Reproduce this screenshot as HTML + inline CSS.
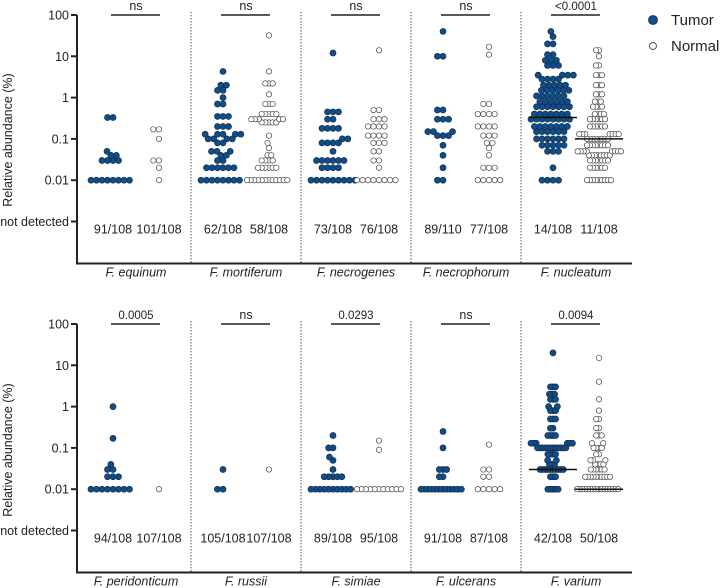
<!DOCTYPE html>
<html><head><meta charset="utf-8"><style>
body{margin:0;background:#fff;}
svg{display:block;font-family:"Liberation Sans",Arial,sans-serif;}
</style></head><body>
<svg id="chart" width="720" height="588" viewBox="0 0 720 588">
<text x="0" y="0" transform="translate(12,140) rotate(-90)" text-anchor="middle" font-size="12.5" fill="#222">Relative abundance (%)</text>
<text x="0" y="0" transform="translate(12,450) rotate(-90)" text-anchor="middle" font-size="12.5" fill="#222">Relative abundance (%)</text>
<circle cx="653" cy="20" r="4.5" fill="#0b4f8e" stroke="#1a2a40" stroke-width="0.8"/>
<text x="671" y="25" font-size="15" fill="#222">Tumor</text>
<circle cx="653" cy="46" r="3.5" fill="#fff" stroke="#444" stroke-width="0.9"/>
<text x="671" y="51" font-size="15" fill="#222">Normal</text>
</svg>
<script>
// ---- data ----
const speciesTop = ["F. equinum","F. mortiferum","F. necrogenes","F. necrophorum","F. nucleatum"];
const speciesBottom = ["F. peridonticum","F. russii","F. simiae","F. ulcerans","F. varium"];
const pTop = ["ns","ns","ns","ns","<0.0001"];
const pBottom = ["0.0005","ns","0.0293","ns","0.0094"];
const ndTumorTop = ["91/108","62/108","73/108","89/110","14/108"];
const ndNormalTop = ["101/108","58/108","76/108","77/108","11/108"];
const ndTumorBottom = ["94/108","105/108","89/108","91/108","42/108"];
const ndNormalBottom = ["107/108","107/108","95/108","87/108","50/108"];
const yTicks = [100,10,1,0.1,0.01];
const yTickLabels = ["100","10","1","0.1","0.01"];
// [value, count] pairs per species
const tumorTop = [
 [[0.01,8],[0.03,4],[0.04,2],[0.05,1],[0.33,2]],
 [[0.01,8],[0.02,6],[0.03,2],[0.04,2],[0.05,3],[0.08,2],[0.1,4],[0.13,5],[0.2,3],[0.35,3],[0.7,2],[1.0,1],[1.5,2],[2.0,2],[4.3,1]],
 [[0.01,9],[0.02,4],[0.03,6],[0.05,1],[0.08,4],[0.1,2],[0.18,4],[0.3,2],[0.45,3],[12,1]],
 [[0.01,2],[0.02,1],[0.04,1],[0.07,1],[0.12,3],[0.15,3],[0.3,3],[0.5,2],[10,2],[40,1]],
 [[0.01,4],[0.02,1],[0.05,3],[0.07,5],[0.1,6],[0.15,6],[0.2,7],[0.3,8],[0.4,7],[0.6,7],[0.8,6],[1.1,6],[1.5,6],[2,5],[2.8,4],[3.5,4],[6,3],[8,3],[11,2],[20,2],[30,1],[40,1]]
];
const normalTop = [
 [[0.01,1],[0.02,1],[0.03,2],[0.1,1],[0.17,2]],
 [[0.01,12],[0.02,6],[0.03,4],[0.04,2],[0.06,1],[0.08,1],[0.12,1],[0.25,5],[0.3,5],[0.4,5],[0.7,3],[1.2,1],[2.2,3],[4.3,1],[32,1]],
 [[0.01,8],[0.02,1],[0.03,2],[0.05,2],[0.08,3],[0.12,4],[0.2,4],[0.3,3],[0.5,2],[14,1]],
 [[0.01,5],[0.02,3],[0.04,1],[0.06,1],[0.08,2],[0.12,3],[0.2,4],[0.4,4],[0.7,2],[11,1],[17,1]],
 [[0.01,9],[0.02,6],[0.03,7],[0.04,8],[0.05,8],[0.07,8],[0.1,8],[0.13,7],[0.2,6],[0.3,6],[0.4,4],[0.6,4],[0.8,3],[1.2,3],[2,3],[3.5,3],[6,2],[10,1],[14,2]]
];
const tumorBottom = [
 [[0.01,8],[0.02,3],[0.03,2],[0.04,1],[0.17,1],[1.0,1]],
 [[0.01,2],[0.03,1]],
 [[0.01,10],[0.02,5],[0.03,1],[0.05,1],[0.06,1],[0.1,2],[0.2,1]],
 [[0.01,12],[0.02,2],[0.03,3],[0.1,1],[0.25,1]],
 [[0.01,5],[0.02,3],[0.03,10],[0.04,3],[0.05,2],[0.07,4],[0.1,12],[0.13,6],[0.2,4],[0.3,2],[0.5,3],[0.8,3],[1,2],[1.5,3],[2,3],[3,3],[20,1]]
];
const normalBottom = [
 [[0.01,1]],
 [[0.03,1]],
 [[0.01,11],[0.09,1],[0.15,1]],
 [[0.01,5],[0.02,2],[0.03,2],[0.12,1]],
 [[0.01,16],[0.02,10],[0.03,6],[0.04,4],[0.05,3],[0.07,2],[0.1,4],[0.13,2],[0.2,3],[0.3,2],[0.5,2],[0.8,1],[1.5,1],[4,1],[15,1]]
];
const mediansTumor = [null,null,null,null,0.33, null,null,null,null,0.03];
const mediansNormal = [null,null,null,null,0.1, null,null,null,null,0.01];

// ---- drawing ----
const NS="http://www.w3.org/2000/svg";
const svg=document.getElementById('chart');
function mk(tag,attrs,parent){const e=document.createElementNS(NS,tag);for(const k in attrs)e.setAttribute(k,attrs[k]);(parent||svg).appendChild(e);return e;}
const D=5.6, HALFMAX=22;
function panel(top, species, pvals, ndT, ndN, tData, nData, idx0){
  const y100=top, dec=41.3;
  const yScale=v=>y100+(2-Math.log10(v))*dec;
  const yND=y100+5*dec, yAxisEnd=y100+5*dec+42;
  const x0=77, step=110;
  const g=mk('g',{});
  
  
  const ya=mk('line',{x1:x0,y1:y100,x2:x0,y2:yAxisEnd,stroke:'#222','stroke-width':2},g);
  
  const xa=mk('line',{x1:x0-1,y1:yAxisEnd,x2:x0+5*step+5,y2:yAxisEnd,stroke:'#222','stroke-width':2},g);
  
  yTicks.forEach((t,i)=>{
    const y=yScale(t);
    const tk=mk('line',{x1:x0-6,y1:y,x2:x0,y2:y,stroke:'#222','stroke-width':2},g);
    
    const tx=mk('text',{x:x0-8,y:y+4.5,'text-anchor':'end','font-size':12.5,fill:'#222'},g);
    tx.textContent=yTickLabels[i];
    
  });
  const tkn=mk('line',{x1:x0-6,y1:yND,x2:x0,y2:yND,stroke:'#222','stroke-width':2},g);
  
  const tn=mk('text',{x:x0-8,y:yND+4.5,'text-anchor':'end','font-size':12.5,fill:'#222'},g);
  tn.textContent='not detected';
  
  species.forEach((sp,i)=>{
    const c=x0+59+step*i, xt=c-23, xn=c+23;
    if(i>0){const dv=mk('line',{x1:x0+step*i+4,y1:y100-3,x2:x0+step*i+4,y2:yAxisEnd,stroke:'#555','stroke-width':1,'stroke-dasharray':'1.5,1.5'},g);
      }
    const lb=mk('text',{x:c,y:yAxisEnd+13,'text-anchor':'middle','font-size':12.5,'font-style':'italic',fill:'#222'},g);
    lb.textContent=sp;
    
    const sb=mk('line',{x1:xt-2,y1:y100,x2:xn+1,y2:y100,stroke:'#222','stroke-width':1.5},g);
    
    const pt=mk('text',{x:(xt+xn)/2,y:y100-5,'text-anchor':'middle','font-size':pvals[i]==='ns'?12.5:11.5,fill:'#222'},g);
    pt.textContent=pvals[i];
    
    const a=mk('text',{x:xt,y:yND+12,'text-anchor':'middle','font-size':12.5,fill:'#222'},g);
    a.textContent=ndT[i];
    const b=mk('text',{x:xn,y:yND+12,'text-anchor':'middle','font-size':12.5,fill:'#222'},g);
    b.textContent=ndN[i];
    swarm(g,tData[i],xt,yScale,true);
    swarm(g,nData[i],xn,yScale,false);
    const mt=mediansTumor[idx0+i], mn=mediansNormal[idx0+i];
    if(mt!=null){const m=mk('line',{x1:xt-24,y1:yScale(mt),x2:xt+24,y2:yScale(mt),stroke:'#111','stroke-width':1.5},g);
      }
    if(mn!=null){const m=mk('line',{x1:xn-24,y1:yScale(mn),x2:xn+24,y2:yScale(mn),stroke:'#111','stroke-width':1.5},g);
      }
  });
}
function swarm(g,pairs,cx,yScale,tumor){
  const vals=[];pairs.forEach(p=>{for(let k=0;k<p[1];k++)vals.push(p[0]);});
  const placed=[];
  vals.forEach(v=>{
    const y=yScale(v);
    const cands=[0];
    placed.forEach(p=>{const dy=Math.abs(p.y-y);if(dy<D){const dx=Math.sqrt(D*D-dy*dy);cands.push(p.x+dx,p.x-dx);}});
    cands.sort((a,b)=>Math.abs(a)-Math.abs(b)||a-b);
    let x=0;
    for(const c of cands){if(placed.every(p=>(p.x-c)**2+(p.y-y)**2>=D*D-0.01)){x=c;break;}}
    placed.push({x,y});
  });
  let mx=0;placed.forEach(p=>{mx=Math.max(mx,Math.abs(p.x));});
  const s=mx>HALFMAX?HALFMAX/mx:1;
  placed.forEach(p=>{
    const dot=mk('circle',{cx:cx+p.x*s,cy:p.y,r:tumor?3.0:2.7,fill:tumor?'#0b4f8e':'#fff',stroke:tumor?'#1a2a40':'#444','stroke-width':0.7},g);
    
    
  });
}
panel(15,speciesTop,pTop,ndTumorTop,ndNormalTop,tumorTop,normalTop,0);
panel(324,speciesBottom,pBottom,ndTumorBottom,ndNormalBottom,tumorBottom,normalBottom,5);
</script>
</body></html>
